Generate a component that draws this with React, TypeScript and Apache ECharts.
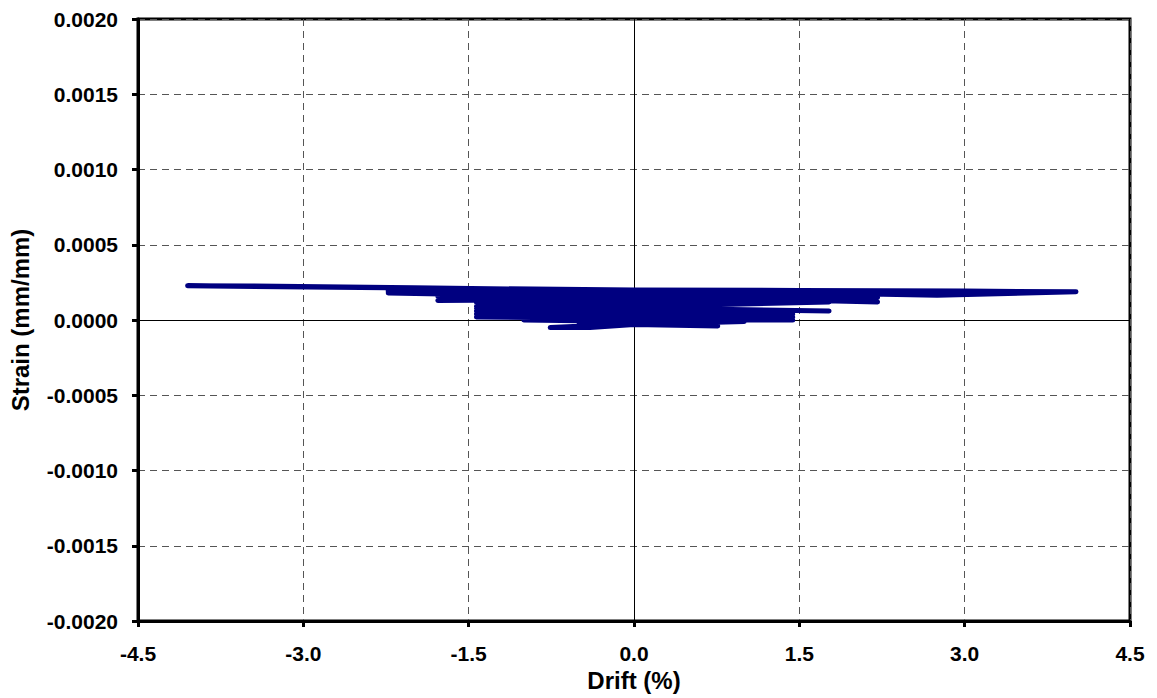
import React, { useEffect, useRef } from "react";
import * as echarts from "echarts";

const driftValues: number[] = [
  0.0,
  0.25, 0.0, -0.25, 0.0,
  0.5, 0.0, -0.5, 0.0,
  0.76, 0.3, 0.0, -0.45, -0.76, -0.4, 0.0,
  1.0, 0.0, -1.0, 0.0,
  1.44, 0.5, 0.0, -1.43, 0.0,
  1.44, 0.0, -1.43, 0.0,
  1.44, 0.0, -1.43, 0.0,
  1.44, 0.0, -1.43, 0.0,
  1.77, 0.0, -1.43, 0.0,
  1.77, 0.0, -1.43, 0.0,
  1.77, 0.0, -1.78, 0.0,
  1.77, 0.0, -1.78, 0.0,
  2.21, 1.0, 0.0, -2.23, 0.0,
  2.21, 0.0, -2.23, 0.0,
  2.21, 0.0, -2.23, 0.0,
  2.75, 4.01, 3.0, 1.5, 0.0, -2.0, -4.05, -3.5, -2.0, 0.0,
];

const strainValues: number[] = [
  0.0,
  -0.00001, -0.00001, -0.00002, -0.00002,
  -0.00002, -0.00002, -0.00003, -0.00003,
  -0.00004, -0.00003, -0.00003, -0.00004, -0.00005, -0.00005, -0.00003,
  -0.00001, -0.00001, 0.0, 0.0,
  0.0, 0.00001, 0.00001, 0.00002, 0.00002,
  0.00002, 0.00003, 0.00004, 0.00004,
  0.00004, 0.00005, 0.00006, 0.00006,
  0.00006, 0.00007, 0.00008, 0.00008,
  0.00006, 0.00008, 0.00009, 0.00009,
  0.00012, 0.00012, 0.00012, 0.00013,
  0.00012, 0.00014, 0.00013, 0.00015,
  0.00013, 0.00016, 0.00016, 0.00017,
  0.00012, 0.00014, 0.00015, 0.00018, 0.00017,
  0.00015, 0.00018, 0.00019, 0.00019,
  0.00016, 0.000195, 0.000195, 0.0002,
  0.000165, 0.000188, 0.000192, 0.000196, 0.0002, 0.000212, 0.000228, 0.000226, 0.000215, 0.000195,
];

const xTicks = { min: -4.5, max: 4.5, interval: 1.5 };
const yTicks = { min: -0.002, max: 0.002, interval: 0.0005 };

const FONT = "Arial, 'Liberation Sans', sans-serif";

export default function App() {
  const ref = useRef<HTMLDivElement>(null);
  useEffect(() => {
    if (!ref.current) return;
    const chart = echarts.init(ref.current, undefined, { renderer: "svg" });
    const data = driftValues.map((d, i) => [d, strainValues[i]]);
    chart.setOption({
      animation: false,
      backgroundColor: "#ffffff",
      grid: {
        left: 138,
        top: 19,
        right: 27,
        bottom: 77,
        show: true,
        borderColor: "#000",
        borderWidth: 3,
        backgroundColor: "transparent",
      },
      xAxis: {
        type: "value",
        min: xTicks.min,
        max: xTicks.max,
        interval: xTicks.interval,
        name: "Drift (%)",
        nameLocation: "middle",
        nameGap: 46,
        nameTextStyle: { fontFamily: FONT, fontWeight: "bold", fontSize: 24, color: "#000" },
        axisLine: { show: true, onZero: false, lineStyle: { color: "#000", width: 3 } },
        axisTick: { show: true, inside: false, length: 6, lineStyle: { color: "#000", width: 3 } },
        axisLabel: {
          margin: 22,
          fontFamily: FONT,
          fontWeight: "bold",
          fontSize: 21,
          color: "#000",
          formatter: (v: number) => v.toFixed(1),
        },
        splitLine: { show: true, lineStyle: { color: "#555", width: 1, type: [7, 5] } },
      },
      yAxis: {
        type: "value",
        min: yTicks.min,
        max: yTicks.max,
        interval: yTicks.interval,
        name: "Strain (mm/mm)",
        nameLocation: "middle",
        nameGap: 106,
        nameTextStyle: { fontFamily: FONT, fontWeight: "bold", fontSize: 24, color: "#000" },
        axisLine: { show: true, onZero: false, lineStyle: { color: "#000", width: 3 } },
        axisTick: { show: true, inside: false, length: 6, lineStyle: { color: "#000", width: 3 } },
        axisLabel: {
          margin: 20,
          fontFamily: FONT,
          fontWeight: "bold",
          fontSize: 21,
          color: "#000",
          formatter: (v: number) => v.toFixed(4),
        },
        splitLine: { show: true, lineStyle: { color: "#555", width: 1, type: [7, 5] } },
      },
      series: [
        {
          type: "line",
          data,
          showSymbol: false,
          symbol: "none",
          lineStyle: { color: "#000080", width: 5, join: "round", cap: "round" },
          markLine: {
            silent: true,
            symbol: "none",
            label: { show: false },
            lineStyle: { color: "#000", width: 1, type: "solid" },
            data: [{ xAxis: 0 }, { yAxis: 0 }],
            z: 1,
          },
          z: 3,
        },
      ],
    });
    return () => chart.dispose();
  }, []);
  return (
    <div
      ref={ref}
      style={{ position: "fixed", left: 0, top: 0, width: 1157, height: 698, background: "#fff" }}
    />
  );
}
